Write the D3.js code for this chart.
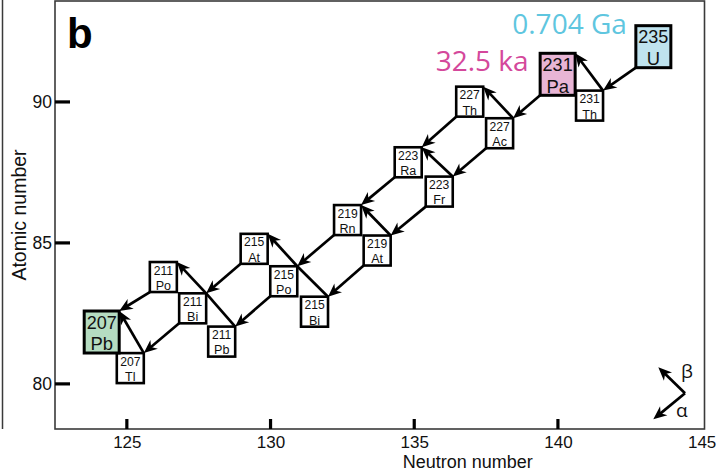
<!DOCTYPE html>
<html><head><meta charset="utf-8">
<script src="https://cdn.jsdelivr.net/npm/d3@7"></script>
<style>body{margin:0;background:#fff}svg{display:block}</style>
</head><body><svg id="c" width="721" height="472"></svg>
<script>
// ---- data ----
const massNumbers = [235, 231, 231, 227, 227, 223, 223, 219, 219, 215, 215, 215, 211, 211, 211, 207, 207];
const symbols     = ["U", "Th", "Pa", "Ac", "Th", "Fr", "Ra", "At", "Rn", "Bi", "Po", "At", "Pb", "Bi", "Po", "Tl", "Pb"];
// plotted box centres (neutron axis, atomic-number axis) as drawn in the figure
const neutronPos  = [143.32, 141.10, 139.99, 137.97, 136.93, 135.87, 134.79, 133.71, 132.68, 131.53, 130.46, 129.43, 128.30, 127.29, 126.27, 125.12, 124.125];
const protonPos   = [91.96, 89.87, 90.98, 88.89, 90.01, 86.82, 87.86, 84.73, 85.81, 82.56, 83.64, 84.79, 81.50, 82.68, 83.79, 80.56, 81.84];
const highlighted = ["235U", "231Pa", "207Pb"];
const decayFrom = ["235U","231Th","231Pa","227Ac","227Ac","227Th","223Fr","223Fr","223Ra","219At","219At","219Rn","215Bi","215Po","215Po","215At","211Pb","211Bi","211Bi","211Po","207Tl"];
const decayTo   = ["231Th","231Pa","227Ac","227Th","223Fr","223Ra","223Ra","219At","219Rn","219Rn","215Bi","215Po","215Po","215At","211Pb","211Bi","211Bi","211Po","207Tl","207Pb","207Pb"];
const decayMode = ["α","β","α","β","α","α","β","α","α","β","α","α","β","β","α","α","β","β","α","α","β"];
const halfLifeLabels = [{id: "235U", text: "0.704 Ga"}, {id: "231Pa", text: "32.5 ka"}];
const xTicks = [125, 130, 135, 140, 145];
const yTicks = [80, 85, 90];
const xDomain = [122.5, 145.1];
const yDomain = [78.4, 93.58];

// ---- styles ----
const fillColors = {"235U": "#bfe3ee", "231Pa": "#e8b5d5", "207Pb": "#b5dcc1"};
const labelColors = {"235U": "#5fc6df", "231Pa": "#d4489b"};
const FONT = "'Open Sans', 'Noto Sans', sans-serif";
const BOXFONT = "'Liberation Sans', Arial, sans-serif";

const svg = d3.select("#c");
const L = 55, R = 704.5, T = 1, B = 429;
const x = d3.scaleLinear().domain(xDomain).range([L, R]);
const y = d3.scaleLinear().domain(yDomain).range([B, T]);

// decorative panel border on far left
svg.append("line").attr("x1", 2.5).attr("x2", 2.5).attr("y1", 0).attr("y2", B)
  .attr("stroke", "#3a3a3a").attr("stroke-width", 1.5);

// frame
svg.append("rect").attr("x", L).attr("y", T).attr("width", R - L).attr("height", B - T)
  .attr("fill", "none").attr("stroke", "#3a3a3a").attr("stroke-width", 1.6);

// axes ticks (inward)
const xAxis = d3.axisBottom(x).tickValues(xTicks).tickSize(0).tickFormat(d3.format("d"));
const gx = svg.append("g").attr("transform", `translate(0,${B})`).call(xAxis);
gx.select(".domain").remove();
gx.selectAll("text").attr("y", 18.5).attr("dy", 0).attr("font-family", BOXFONT).attr("font-size", 17).attr("fill", "#111");
svg.selectAll(".xt").data(xTicks.filter(d => d < 145)).join("line").attr("class", "xt")
  .attr("x1", d => x(d)).attr("x2", d => x(d)).attr("y1", B).attr("y2", B - 10)
  .attr("stroke", "#000").attr("stroke-width", 3.2);

const yAxis = d3.axisLeft(y).tickValues(yTicks).tickSize(0).tickPadding(3).tickFormat(d3.format("d"));
const gy = svg.append("g").attr("transform", `translate(${L},0)`).call(yAxis);
gy.select(".domain").remove();
gy.selectAll("text").attr("font-family", BOXFONT).attr("font-size", 17.5).attr("fill", "#111");
svg.selectAll(".yt").data(yTicks).join("line").attr("class", "yt")
  .attr("x1", L).attr("x2", L + 15).attr("y1", d => y(d)).attr("y2", d => y(d))
  .attr("stroke", "#000").attr("stroke-width", 3.2);

// axis titles
svg.append("text").attr("x", (L + R) / 2 + 88).attr("y", 467.8).attr("text-anchor", "middle")
  .attr("font-family", BOXFONT).attr("font-size", 18).attr("fill", "#111").text("Neutron number");
svg.append("text").attr("transform", `translate(26,${(T + B) / 2}) rotate(-90)`).attr("text-anchor", "middle")
  .attr("font-family", BOXFONT).attr("font-size", 19.5).attr("fill", "#111").text("Atomic number");

// panel letter
svg.append("text").attr("x", 67).attr("y", 48).attr("font-family", "'Liberation Sans', Arial, sans-serif")
  .attr("font-weight", "bold").attr("font-size", 42).attr("fill", "#000").text("b");

// ---- nuclides ----
const nuclides = massNumbers.map((m, i) => {
  const id = m + symbols[i];
  const big = highlighted.includes(id);
  const w = big ? 35 : 27, h = big ? 42 : 30;
  const cx = x(neutronPos[i]), cy = y(protonPos[i]);
  return {id, mass: m, sym: symbols[i], big, cx, cy, x0: cx - w / 2, x1: cx + w / 2, y0: cy - h / 2, y1: cy + h / 2, w, h};
});
const byId = Object.fromEntries(nuclides.map(d => [d.id, d]));

// ---- decay arrows ----
const gArr = svg.append("g");
function arrowHead(tx, ty, ang) {
  gArr.append("path").attr("d", "M0,0 L-13.5,-5.8 L-9.5,0 L-13.5,5.8Z")
    .attr("transform", `translate(${tx},${ty}) rotate(${ang * 180 / Math.PI})`).attr("fill", "#000");
}
function arrow(x1, y1, x2, y2, withHead) {
  const ang = Math.atan2(y2 - y1, x2 - x1);
  const cut = withHead ? 9 : 0;
  gArr.append("line").attr("x1", x1).attr("y1", y1)
    .attr("x2", x2 - cut * Math.cos(ang)).attr("y2", y2 - cut * Math.sin(ang))
    .attr("stroke", "#000").attr("stroke-width", 2.7);
  if (withHead) arrowHead(x2, y2, ang);
}
decayFrom.forEach((f, i) => {
  const a = byId[f], b = byId[decayTo[i]];
  const mode = decayMode[i];
  const sx = mode === "α" ? a.x0 : a.x1, sy = mode === "α" ? a.y1 : a.y0;
  // beta arrows that continue collinearly into another beta decay carry no head
  const continues = mode === "β" && decayFrom.some((g, j) => g === decayTo[i] && decayMode[j] === "β");
  arrow(sx, sy, b.x1, b.y0, !continues);
});

// ---- boxes ----
const gBox = svg.append("g").selectAll("g").data(nuclides).join("g");
gBox.append("rect").attr("x", d => d.x0).attr("y", d => d.y0).attr("width", d => d.w).attr("height", d => d.h)
  .attr("fill", d => fillColors[d.id] || "#fff").attr("stroke", "#000").attr("stroke-width", d => d.big ? 3 : 2.6);
gBox.append("text")
  .attr("transform", d => `translate(${d.cx},${d.big ? d.y0 + 17.8 : d.y0 + 12.6}) scale(${d.big ? 0.95 : 0.9},1)`)
  .attr("text-anchor", "middle").attr("font-family", BOXFONT).attr("font-size", d => d.big ? 19 : 13.5).attr("fill", "#111")
  .text(d => d.mass);
gBox.append("text")
  .attr("transform", d => `translate(${d.cx},${d.big ? d.y0 + 39.3 : d.y0 + 27.9}) scale(${d.big ? 0.97 : 0.93},1)`)
  .attr("text-anchor", "middle").attr("font-family", BOXFONT).attr("font-size", d => d.big ? 19 : 13.5).attr("fill", "#111")
  .text(d => d.sym);

// ---- half-life labels ----
svg.selectAll(".hl").data(halfLifeLabels).join("text").attr("class", "hl")
  .attr("x", d => byId[d.id].x0 - (d.id === "235U" ? 9 : 11.5))
  .attr("y", d => byId[d.id].y0 + (d.id === "235U" ? 8.5 : 18))
  .attr("text-anchor", "end").attr("font-family", FONT).attr("font-size", 28)
  .attr("fill", d => labelColors[d.id]).text(d => d.text);

// ---- legend (decay directions) ----
const vx = R - 19.5, vy = B - 35.7;
arrow(vx, vy, vx - 26.7, vy - 26, true);
arrow(vx, vy, vx - 31.7, vy + 26, true);
svg.append("text").attr("x", vx - 4).attr("y", vy - 15).attr("font-family", FONT).attr("font-size", 19).attr("fill", "#111").text("β");
svg.append("text").attr("x", vx - 9).attr("y", vy + 23.5).attr("font-family", FONT).attr("font-size", 19).attr("fill", "#111").text("α");
</script></body></html>
